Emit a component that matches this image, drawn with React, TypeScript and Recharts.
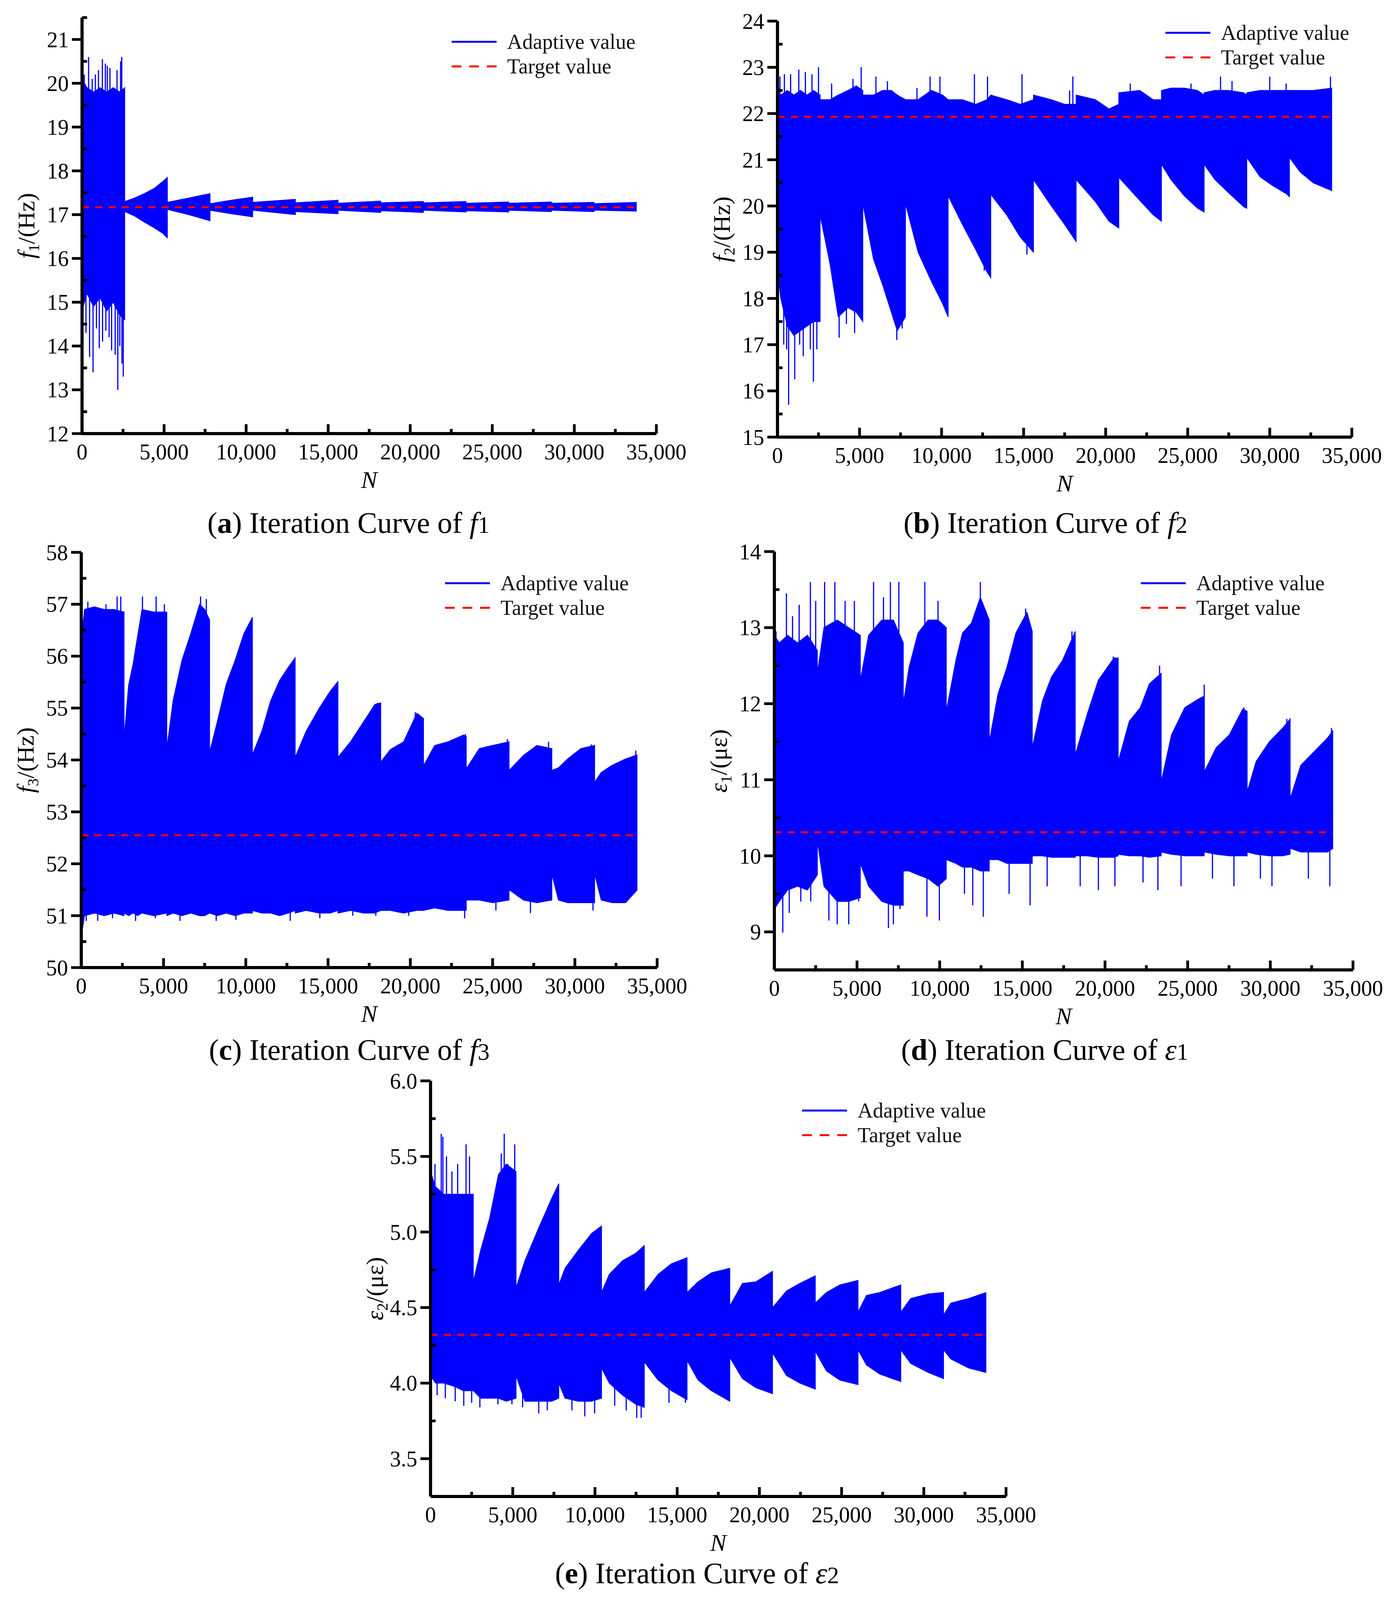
import React from "react";
import { ComposedChart, Area, Line, XAxis, YAxis } from "recharts";

const FONT = "'Liberation Serif', 'Times New Roman', Times, serif";
const BLUE = "#0000ff";
const RED = "#ff0000";

// the photographed page is only 4096px tall, so vertical layout is squeezed to fit
const PAGE_W = 3568;
const PAGE_H = 4096;
const K = PAGE_H / 4577;
const sy = (v: number) => Math.round(v * K);

// iteration axis, shared by all five panels
const xTicks = [0, 2500, 5000, 7500, 10000, 12500, 15000, 17500, 20000, 22500, 25000, 27500, 30000, 32500, 35000];
const runEnd = 33800;

// (a) f1 — band envelope (upper / lower)
const aYTicks = [12, 12.5, 13, 13.5, 14, 14.5, 15, 15.5, 16, 16.5, 17, 17.5, 18, 18.5, 19, 19.5, 20, 20.5, 21, 21.5];
const aN = [0, 300, 700, 1100, 1500, 1900, 2300, 2600, 2600, 3200, 3800, 4400, 4900, 5200, 5200, 6500, 7800, 7800, 9100, 10400, 10400, 13000, 13000, 15600, 15600, 18200, 18200, 20800, 20800, 23400, 23400, 26000, 26000, 28600, 28600, 31200, 31200, 33800];
const aHigh = [20.1, 19.9, 19.8, 19.9, 19.8, 19.9, 19.8, 19.9, 17.3, 17.38, 17.48, 17.6, 17.75, 17.85, 17.28, 17.38, 17.48, 17.25, 17.33, 17.4, 17.28, 17.35, 17.27, 17.33, 17.26, 17.31, 17.27, 17.3, 17.27, 17.3, 17.26, 17.29, 17.26, 17.29, 17.26, 17.28, 17.25, 17.28];
const aLow = [14.8, 15.2, 14.9, 15.1, 14.8, 15.0, 14.7, 14.6, 17.07, 16.97, 16.83, 16.7, 16.58, 16.47, 17.12, 17.0, 16.86, 17.1, 17.02, 16.95, 17.1, 17.0, 17.07, 17.02, 17.1, 17.05, 17.09, 17.05, 17.1, 17.06, 17.09, 17.06, 17.1, 17.07, 17.1, 17.07, 17.1, 17.08];
const aSpikeN = [130, 240, 400, 460, 620, 670, 810, 880, 1000, 1050, 1240, 1250, 1420, 1450, 1540, 1650, 1700, 1800, 2020, 2130, 2180, 2300, 2350, 2420, 2430, 2510];
const aSpikeV = [20.2, 14.3, 20.6, 13.75, 20.1, 13.4, 20.2, 14.4, 20.3, 13.95, 20.55, 14.1, 20.45, 14.35, 20.4, 14.2, 20.35, 13.9, 13.8, 20.3, 13.0, 14.0, 20.5, 20.6, 13.6, 13.3];
const aTarget = 17.17;

// (b) f2
const bYTicks = [15, 15.5, 16, 16.5, 17, 17.5, 18, 18.5, 19, 19.5, 20, 20.5, 21, 21.5, 22, 22.5, 23, 23.5, 24];
const bN = [0, 200, 600, 1000, 1400, 1800, 2200, 2600, 2600, 3200, 3700, 4300, 4800, 5200, 5200, 5850, 6400, 6940, 7300, 7800, 7800, 8570, 9380, 10060, 10400, 10400, 11270, 12090, 12770, 13000, 13000, 13980, 14790, 15600, 15600, 16690, 17500, 18200, 18200, 19380, 20200, 20800, 20800, 22080, 22890, 23400, 23400, 23980, 24790, 25600, 26000, 26000, 26660, 27480, 28420, 28600, 28600, 29410, 30220, 31030, 31200, 31200, 31840, 32650, 33800];
const bHigh = [22.5, 22.4, 22.5, 22.4, 22.5, 22.4, 22.5, 22.4, 22.3, 22.3, 22.4, 22.5, 22.6, 22.5, 22.4, 22.4, 22.5, 22.5, 22.4, 22.3, 22.3, 22.3, 22.5, 22.4, 22.3, 22.3, 22.3, 22.2, 22.3, 22.4, 22.4, 22.3, 22.2, 22.3, 22.4, 22.3, 22.2, 22.2, 22.4, 22.3, 22.1, 22.2, 22.45, 22.5, 22.3, 22.3, 22.5, 22.55, 22.55, 22.5, 22.4, 22.45, 22.5, 22.5, 22.45, 22.4, 22.45, 22.5, 22.5, 22.5, 22.5, 22.5, 22.5, 22.5, 22.55];
const bLow = [18.6, 18.0, 17.4, 17.2, 17.3, 17.4, 17.5, 17.5, 19.8, 18.75, 17.6, 17.8, 17.7, 17.5, 20.05, 18.85, 18.3, 17.7, 17.3, 17.6, 20.05, 19.0, 18.37, 17.89, 17.6, 20.22, 19.6, 19.05, 18.57, 18.45, 20.25, 19.8, 19.33, 19.0, 20.57, 20.0, 19.6, 19.23, 20.57, 20.09, 19.67, 19.52, 20.62, 20.12, 19.81, 19.67, 20.9, 20.57, 20.22, 19.95, 19.87, 20.9, 20.57, 20.29, 19.98, 19.95, 21.05, 20.63, 20.43, 20.26, 20.2, 21.05, 20.74, 20.5, 20.33];
const bSpikeN = [150, 380, 420, 560, 680, 800, 1050, 1300, 1350, 1570, 1700, 2000, 2100, 2190, 2400, 2500, 3300, 3760, 4200, 4600, 4700, 5100, 6000, 6700, 7270, 7600, 8500, 9300, 9900, 12000, 12600, 12800, 14900, 15200, 17800, 18000, 21500, 25200, 27000, 27700, 30000, 31000, 33700];
const bSpikeV = [22.8, 17.0, 22.85, 16.9, 15.7, 22.85, 16.25, 22.95, 17.0, 16.75, 22.9, 16.9, 22.85, 16.2, 16.9, 23.0, 22.65, 17.15, 17.45, 22.75, 17.25, 23.0, 22.8, 22.7, 17.1, 17.35, 22.55, 22.8, 22.8, 22.85, 18.6, 22.8, 22.85, 18.95, 22.5, 22.8, 22.65, 22.65, 22.8, 22.7, 22.8, 22.65, 22.8];
const bTarget = 21.93;

// (c) f3
const cYTicks = [50, 50.5, 51, 51.5, 52, 52.5, 53, 53.5, 54, 54.5, 55, 55.5, 56, 56.5, 57, 57.5, 58];
const cN = [0, 200, 800, 1400, 2000, 2600, 2600, 2880, 3150, 3420, 3690, 4400, 5200, 5200, 5580, 6120, 6660, 7190, 7500, 7800, 7800, 8270, 8810, 9350, 9890, 10400, 10400, 10970, 11510, 12050, 12590, 13000, 13000, 13660, 14470, 15140, 15600, 15600, 16360, 17170, 17840, 18200, 18200, 18780, 19590, 20400, 20800, 20800, 21480, 22290, 23230, 23400, 23400, 24190, 25000, 26000, 26000, 26880, 27690, 28600, 28600, 29000, 29560, 30370, 31200, 31200, 31600, 32270, 33080, 33800];
const cHigh = [56.3, 56.9, 56.95, 56.9, 56.9, 56.85, 54.4, 55.45, 55.85, 56.38, 56.9, 56.85, 56.85, 54.22, 55.14, 55.92, 56.44, 57.0, 56.9, 56.7, 54.15, 54.74, 55.46, 55.92, 56.44, 56.75, 54.1, 54.55, 55.14, 55.53, 55.79, 55.97, 54.05, 54.55, 55.0, 55.33, 55.51, 54.05, 54.35, 54.74, 55.07, 55.1, 53.96, 54.2, 54.35, 54.9, 54.8, 53.89, 54.28, 54.35, 54.48, 54.45, 53.83, 54.22, 54.28, 54.35, 53.8, 54.09, 54.28, 54.22, 53.8, 53.85, 54.02, 54.22, 54.28, 53.57, 53.76, 53.9, 54.02, 54.1];
const cLow = [50.6, 51.0, 51.05, 51.0, 51.05, 51.0, 51.05, 51.0, 51.05, 51.0, 51.05, 51.0, 51.05, 51.0, 51.05, 51.0, 51.05, 51.0, 51.0, 51.05, 51.05, 51.0, 51.05, 51.0, 51.05, 51.05, 51.1, 51.05, 51.05, 51.0, 51.05, 51.1, 51.05, 51.1, 51.05, 51.05, 51.1, 51.05, 51.1, 51.05, 51.05, 51.1, 51.1, 51.1, 51.05, 51.1, 51.1, 51.1, 51.15, 51.1, 51.1, 51.1, 51.3, 51.3, 51.25, 51.3, 51.5, 51.3, 51.25, 51.3, 51.8, 51.3, 51.25, 51.25, 51.25, 51.8, 51.3, 51.25, 51.25, 51.5];
const cSpikeN = [300, 400, 1000, 1500, 1900, 2180, 2400, 3300, 3720, 4500, 4550, 5050, 6000, 7250, 7600, 8200, 9400, 12700, 14500, 16500, 17900, 18000, 19900, 20300, 23300, 23350, 25200, 25900, 27300, 28400, 31000, 31100, 33700];
const cSpikeV = [50.9, 57.05, 50.9, 57.0, 50.95, 57.15, 57.15, 50.9, 57.15, 50.95, 57.15, 57.0, 50.9, 57.15, 57.1, 50.9, 50.92, 50.9, 50.95, 51.0, 51.0, 55.1, 51.0, 54.92, 50.95, 54.5, 51.1, 54.4, 51.05, 54.35, 54.3, 51.1, 54.18];
const cTarget = 52.55;

// (d) epsilon1
const dYTicks = [8.5, 9, 9.5, 10, 10.5, 11, 11.5, 12, 12.5, 13, 13.5, 14];
const dN = [0, 300, 800, 1400, 2000, 2600, 2600, 3000, 3800, 4500, 5200, 5200, 5700, 6500, 7200, 7800, 7800, 8150, 8690, 9300, 9900, 10400, 10400, 10980, 11380, 11920, 12460, 13000, 13000, 13530, 14070, 14610, 15280, 15600, 15600, 16220, 16760, 17430, 18200, 18200, 18920, 19600, 20540, 20800, 20800, 21470, 22140, 22680, 23400, 23400, 24020, 24830, 25640, 26000, 26000, 26720, 27520, 28330, 28600, 28600, 29140, 29940, 30750, 31200, 31200, 31840, 32650, 33460, 33800];
const dHigh = [12.9, 12.8, 12.9, 12.8, 12.9, 12.7, 12.4, 13.0, 13.1, 13.0, 12.9, 12.3, 12.9, 13.1, 13.1, 12.8, 12.0, 12.48, 12.93, 13.1, 13.1, 13.0, 11.9, 12.57, 12.93, 13.06, 13.4, 13.1, 11.5, 12.13, 12.48, 12.93, 13.2, 12.95, 11.42, 12.04, 12.35, 12.57, 12.95, 11.33, 11.86, 12.31, 12.6, 12.6, 11.24, 11.77, 11.95, 12.26, 12.4, 10.97, 11.59, 11.95, 12.06, 12.1, 11.1, 11.42, 11.59, 11.93, 11.9, 10.84, 11.24, 11.5, 11.68, 11.8, 10.75, 11.19, 11.37, 11.55, 11.65];
const dLow = [9.3, 9.4, 9.55, 9.6, 9.55, 9.75, 10.2, 9.6, 9.4, 9.4, 9.45, 9.9, 9.6, 9.4, 9.35, 9.35, 9.8, 9.8, 9.75, 9.7, 9.6, 9.7, 9.95, 9.9, 9.85, 9.85, 9.8, 9.8, 9.95, 9.95, 9.9, 9.9, 9.9, 9.9, 10.0, 10.0, 9.98, 9.98, 9.98, 10.0, 10.0, 9.98, 9.98, 10.0, 10.02, 10.0, 10.0, 9.98, 10.0, 10.05, 10.02, 10.0, 10.0, 10.0, 10.05, 10.02, 10.0, 10.0, 10.0, 10.05, 10.02, 10.0, 10.0, 10.02, 10.1, 10.05, 10.05, 10.05, 10.1];
const dSpikeN = [100, 510, 730, 900, 1100, 1500, 1600, 2180, 2200, 2500, 3040, 3300, 3660, 3800, 4280, 4500, 4840, 5100, 6000, 6600, 6900, 7020, 7200, 7530, 7600, 9100, 9230, 9900, 9980, 11500, 12000, 12460, 12640, 14200, 15200, 15470, 16500, 18000, 18500, 19600, 20500, 20600, 22300, 23200, 23300, 24600, 26000, 26500, 27800, 28400, 29400, 30100, 31000, 32300, 33600, 33700];
const dSpikeV = [12.95, 8.99, 13.45, 9.25, 13.15, 13.3, 9.4, 13.6, 9.4, 13.35, 13.6, 9.15, 13.6, 9.1, 13.35, 9.1, 13.35, 9.4, 13.6, 13.4, 9.05, 13.6, 9.1, 13.6, 9.3, 13.6, 9.2, 13.35, 9.15, 9.5, 9.35, 13.6, 9.2, 9.5, 13.25, 9.35, 9.6, 12.95, 9.6, 9.55, 12.62, 9.6, 9.65, 9.55, 12.5, 9.6, 12.25, 9.7, 9.6, 11.95, 9.7, 9.6, 11.8, 9.7, 9.6, 11.68];
const dTarget = 10.31;

// (e) epsilon2
const eYTicks = [3.25, 3.5, 3.75, 4.0, 4.25, 4.5, 4.75, 5.0, 5.25, 5.5, 5.75, 6.0];
const eN = [0, 300, 800, 1400, 2000, 2600, 2600, 3050, 3590, 4130, 4600, 5200, 5200, 5740, 6550, 7360, 7800, 7800, 8180, 8990, 9790, 10400, 10400, 10870, 11680, 12490, 13000, 13000, 13840, 14650, 15600, 15600, 16270, 17080, 18200, 18200, 18970, 19780, 20800, 20800, 21650, 22460, 23400, 23400, 24080, 24890, 26000, 26000, 26510, 27320, 28600, 28600, 29200, 30280, 31200, 31200, 31640, 32720, 33800];
const eHigh = [5.4, 5.3, 5.25, 5.25, 5.25, 5.25, 4.67, 4.88, 5.09, 5.38, 5.45, 5.4, 4.63, 4.81, 5.02, 5.22, 5.32, 4.65, 4.76, 4.88, 4.99, 5.04, 4.6, 4.72, 4.81, 4.86, 4.91, 4.6, 4.72, 4.79, 4.83, 4.6, 4.67, 4.73, 4.76, 4.51, 4.66, 4.67, 4.74, 4.5, 4.61, 4.66, 4.71, 4.53, 4.6, 4.65, 4.68, 4.47, 4.58, 4.6, 4.65, 4.47, 4.56, 4.59, 4.6, 4.45, 4.53, 4.56, 4.6];
const eLow = [4.05, 4.0, 4.0, 3.98, 3.95, 3.95, 3.95, 3.9, 3.9, 3.9, 3.88, 3.9, 4.05, 3.88, 3.88, 3.88, 3.9, 4.0, 3.9, 3.88, 3.88, 3.9, 4.1, 4.0, 3.92, 3.86, 3.84, 4.14, 4.02, 3.95, 3.89, 4.15, 4.02, 3.95, 3.88, 4.17, 4.03, 3.97, 3.93, 4.2, 4.05, 4.0, 3.96, 4.21, 4.08, 4.02, 3.99, 4.22, 4.12, 4.06, 4.01, 4.22, 4.13, 4.07, 4.03, 4.22, 4.16, 4.1, 4.07];
const eSpikeN = [270, 400, 650, 750, 900, 970, 1300, 1500, 1650, 2020, 2160, 2370, 2500, 3000, 4100, 4300, 4480, 4700, 4950, 5120, 5600, 6580, 7100, 8600, 9380, 9980, 11200, 11900, 12540, 12810, 14500, 15500];
const eSpikeV = [5.45, 3.92, 5.65, 5.63, 3.9, 5.5, 5.4, 3.88, 5.45, 3.85, 5.58, 5.5, 3.87, 3.84, 3.86, 5.52, 5.65, 5.45, 3.86, 5.58, 3.84, 3.8, 3.82, 3.82, 3.78, 3.8, 3.85, 3.82, 3.77, 3.77, 3.87, 3.87];
const eTarget = 4.32;

const bandRows = (ns: number[], hi: number[], lo: number[]) =>
  ns.map((n, i) => ({ n, band: [lo[i], hi[i]] }));

// each spike is a vertical stroke that starts and ends inside the band (on the target level)
const spikeRows = (ns: number[], vs: number[], base: number) =>
  ns.flatMap((n, i) => [{ n, v: base }, { n, v: vs[i] }, { n, v: base }]);

const XTick = (props: any) => {
  const { x, y, payload } = props;
  const v = payload.value as number;
  const major = v % 5000 === 0;
  return (
    <g>
      <line x1={x} x2={x} y1={y} y2={y - (major ? 24 : 12)} stroke="#000" strokeWidth={7} />
      {major && (
        <text x={x} y={y + 66} textAnchor="middle" fontSize={56} fontFamily={FONT} fill="#000">
          {v.toLocaleString("en-US")}
        </text>
      )}
    </g>
  );
};

const makeYTick = (step: number, digits: number) => (props: any) => {
  const { x, y, payload } = props;
  const v = payload.value as number;
  const r = v / step;
  const major = Math.abs(r - Math.round(r)) < 1e-6;
  return (
    <g>
      {major ? (
        <line x1={x} x2={x - 26} y1={y} y2={y} stroke="#000" strokeWidth={7} />
      ) : (
        <line x1={x} x2={x + 13} y1={y} y2={y} stroke="#000" strokeWidth={7} />
      )}
      {major && (
        <text x={x - 34} y={y} dy="0.35em" textAnchor="end" fontSize={56} fontFamily={FONT} fill="#000">
          {v.toFixed(digits)}
        </text>
      )}
    </g>
  );
};

const small = { fontSize: "0.65em", verticalAlign: "-0.3em" };
const capNum = { fontSize: "0.8em" };

const panels = [
  {
    id: "a", left: 210, top: sy(50), w: 1470, h: sy(1190), domain: [12, 21.5], yTicks: aYTicks, step: 1, digits: 0,
    band: bandRows(aN, aHigh, aLow), spikes: spikeRows(aSpikeN, aSpikeV, aTarget), target: aTarget,
    legend: [1156, sy(118)], cap: [892, sy(1495)],
    title: <><i>f</i><span style={small}>1</span>/(Hz)</>,
    caption: <>(<b>a</b>) Iteration Curve of <i>f</i><span style={capNum}>1</span></>,
  },
  {
    id: "b", left: 1990, top: sy(60), w: 1470, h: sy(1190), domain: [15, 24], yTicks: bYTicks, step: 1, digits: 0,
    band: bandRows(bN, bHigh, bLow), spikes: spikeRows(bSpikeN, bSpikeV, bTarget), target: bTarget,
    legend: [2983, sy(93)], cap: [2676, sy(1495)],
    title: <><i>f</i><span style={small}>2</span>/(Hz)</>,
    caption: <>(<b>b</b>) Iteration Curve of <i>f</i><span style={capNum}>2</span></>,
  },
  {
    id: "c", left: 208, top: sy(1580), w: 1474, h: sy(1188), domain: [50, 58], yTicks: cYTicks, step: 1, digits: 0,
    band: bandRows(cN, cHigh, cLow), spikes: spikeRows(cSpikeN, cSpikeV, cTarget), target: cTarget,
    legend: [1139, sy(1667)], cap: [894, sy(3003)],
    title: <><i>f</i><span style={small}>3</span>/(Hz)</>,
    caption: <>(<b>c</b>) Iteration Curve of <i>f</i><span style={capNum}>3</span></>,
  },
  {
    id: "d", left: 1982, top: sy(1578), w: 1481, h: sy(1197), domain: [8.5, 14], yTicks: dYTicks, step: 1, digits: 0,
    band: bandRows(dN, dHigh, dLow), spikes: spikeRows(dSpikeN, dSpikeV, dTarget), target: dTarget,
    legend: [2920, sy(1667)], cap: [2674, sy(3003)],
    title: <><i>ε</i><span style={small}>1</span>/(με)</>,
    caption: <>(<b>d</b>) Iteration Curve of <i>ε</i><span style={capNum}>1</span></>,
  },
  {
    id: "e", left: 1102, top: sy(3092), w: 1473, h: sy(1189), domain: [3.25, 6], yTicks: eYTicks, step: 0.5, digits: 1,
    band: bandRows(eN, eHigh, eLow), spikes: spikeRows(eSpikeN, eSpikeV, eTarget), target: eTarget,
    legend: [2053, sy(3176)], cap: [1784, sy(4500)],
    title: <><i>ε</i><span style={small}>2</span>/(με)</>,
    caption: <>(<b>e</b>) Iteration Curve of <i>ε</i><span style={capNum}>2</span></>,
  },
];

const AX = 150; // y axis box width
const MT = 60; // top margin, keeps the top tick label inside the svg
const MR = 110;
const XH = 140; // x axis box height

function LegendBox({ x, y }: { x: number; y: number }) {
  const row = { display: "flex", alignItems: "center", height: 63 } as const;
  return (
    <div style={{ position: "absolute", left: x, top: y - 31, fontFamily: FONT, fontSize: 54, color: "#111", whiteSpace: "nowrap" }}>
      <div style={row}>
        <svg width={115} height={20}>
          <line x1={0} x2={115} y1={10} y2={10} stroke={BLUE} strokeWidth={5} />
        </svg>
        <span style={{ marginLeft: 27 }}>Adaptive value</span>
      </div>
      <div style={row}>
        <svg width={115} height={20}>
          <line x1={0} x2={115} y1={10} y2={10} stroke={RED} strokeWidth={5} strokeDasharray="25 20" />
        </svg>
        <span style={{ marginLeft: 27 }}>Target value</span>
      </div>
    </div>
  );
}

function Panel({ p }: { p: (typeof panels)[number] }) {
  const target = [
    { n: 0, v: p.target },
    { n: runEnd, v: p.target },
  ];
  return (
    <>
      <div style={{ position: "absolute", left: p.left - AX, top: p.top - MT }}>
        <ComposedChart width={p.w + AX + MR} height={p.h + MT + XH} margin={{ top: MT, right: MR, bottom: 0, left: 0 }}>
          <XAxis
            type="number"
            dataKey="n"
            domain={[0, 35000]}
            ticks={xTicks}
            interval={0}
            tick={XTick}
            tickLine={false}
            tickSize={0}
            tickMargin={0}
            height={XH}
            allowDataOverflow
            axisLine={{ stroke: "#000", strokeWidth: 8 }}
          />
          <YAxis
            type="number"
            domain={p.domain}
            ticks={p.yTicks}
            interval={0}
            tick={makeYTick(p.step, p.digits)}
            tickLine={false}
            tickSize={0}
            tickMargin={0}
            width={AX}
            allowDataOverflow
            axisLine={{ stroke: "#000", strokeWidth: 8 }}
          />
          <Area
            data={p.band}
            dataKey="band"
            type="linear"
            stroke={BLUE}
            strokeWidth={2}
            fill={BLUE}
            fillOpacity={1}
            dot={false}
            activeDot={false}
            isAnimationActive={false}
          />
          <Line data={p.spikes} dataKey="v" type="linear" stroke={BLUE} strokeWidth={3} dot={false} activeDot={false} isAnimationActive={false} />
          <Line data={target} dataKey="v" type="linear" stroke={RED} strokeWidth={5} strokeDasharray="18 16" dot={false} activeDot={false} isAnimationActive={false} />
        </ComposedChart>
      </div>
      <div
        style={{
          position: "absolute",
          left: p.left - 138,
          top: p.top + p.h / 2,
          transform: "translate(-50%, -50%) rotate(-90deg)",
          fontFamily: FONT,
          fontSize: 62,
          whiteSpace: "nowrap",
          lineHeight: 1,
        }}
      >
        {p.title}
      </div>
      <div
        style={{
          position: "absolute",
          left: p.left + p.w / 2,
          top: p.top + p.h + 118,
          transform: "translate(-50%, -50%)",
          fontFamily: FONT,
          fontSize: 62,
          fontStyle: "italic",
          lineHeight: 1,
        }}
      >
        N
      </div>
      <LegendBox x={p.legend[0]} y={p.legend[1]} />
      <div
        style={{
          position: "absolute",
          left: p.cap[0],
          top: p.cap[1],
          transform: "translate(-50%, -50%)",
          fontFamily: FONT,
          fontSize: 76,
          whiteSpace: "nowrap",
          lineHeight: 1,
        }}
      >
        {p.caption}
      </div>
    </>
  );
}

export default function App() {
  return (
    <div style={{ position: "absolute", left: 0, top: 0, width: PAGE_W, height: PAGE_H, background: "#fff", overflow: "hidden" }}>
      {panels.map((p) => (
        <Panel key={p.id} p={p} />
      ))}
    </div>
  );
}
